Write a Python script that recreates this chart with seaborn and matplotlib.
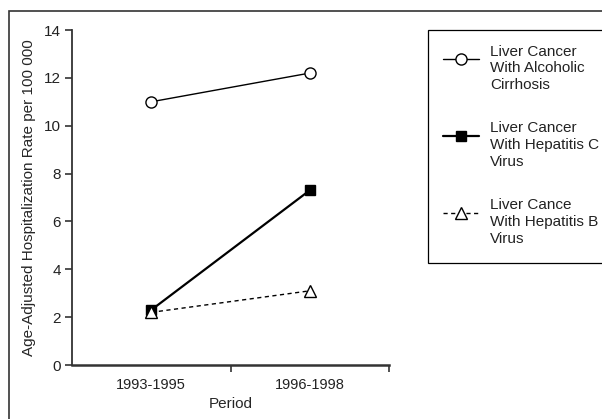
import pandas as pd
import matplotlib.pyplot as plt
import seaborn as sns
from matplotlib.patches import Rectangle
from matplotlib.ticker import FixedLocator

# data
periods = ['1993-1995', '1996-1998']
alcoholic = [11.0, 12.2]
hep_c = [2.3, 7.3]
hep_b = [2.2, 3.1]
labels = ['Liver Cancer\nWith Alcoholic\nCirrhosis',
          'Liver Cancer\nWith Hepatitis C\nVirus',
          'Liver Cance\nWith Hepatitis B\nVirus']

sns.set_style('ticks')
plt.rcParams['font.family'] = ['Liberation Sans', 'DejaVu Sans']
plt.rcParams['font.size'] = 10.5
plt.rcParams['text.color'] = '#222222'

df = pd.DataFrame({'Period': periods * 3,
                   'Rate': alcoholic + hep_c + hep_b,
                   'Group': [labels[0]] * 2 + [labels[1]] * 2 + [labels[2]] * 2})

fig = plt.figure(figsize=(6.02, 4.19), dpi=100)
ax = fig.add_axes([72 / 602, 1 - 365 / 419, (389 - 72) / 602, (365 - 30) / 419])

styles = [
    dict(marker='o', markersize=8, markerfacecolor='white', markeredgecolor='black',
         linewidth=1.0, linestyle='-'),
    dict(marker='s', markersize=7, markerfacecolor='black', markeredgecolor='black',
         linewidth=1.6, linestyle='-'),
    dict(marker='^', markersize=8, markerfacecolor='white', markeredgecolor='black',
         linewidth=1.0, linestyle=(0, (3, 2.5))),
]
for lab, st in zip(labels, styles):
    sub = df[df['Group'] == lab]
    sns.lineplot(data=sub, x='Period', y='Rate', ax=ax, color='black',
                 markeredgewidth=1.0, label=lab, **st)

ax.set_xlim(-0.5, 1.5)
ax.set_ylim(0, 14)
ax.set_yticks(range(0, 15, 2))
ax.xaxis.set_minor_locator(FixedLocator([0.5, 1.5]))
ax.tick_params(axis='x', which='major', length=0, pad=9, labelsize=10.5, labelcolor='#222222')
ax.tick_params(axis='x', which='minor', length=5, width=1.2, color='#333333')
ax.tick_params(axis='y', length=5, width=1.2, color='#333333', pad=3, labelsize=11,
               labelcolor='#222222')
sns.despine(ax=ax)
for s in ['left', 'bottom']:
    ax.spines[s].set_color('#333333')
ax.spines['left'].set_linewidth(1.3)
ax.spines['bottom'].set_linewidth(1.8)

ax.set_xlabel('Period', labelpad=4, fontsize=11)
ax.set_ylabel('Age-Adjusted Hospitalization Rate per 100 000', labelpad=6, fontsize=11)

leg = ax.legend(loc='upper left', bbox_to_anchor=(428 / 602, 1 - 30 / 419, 0.4, 0.0),
                bbox_transform=fig.transFigure, mode='expand', frameon=True,
                fancybox=False, edgecolor='black', framealpha=1, borderpad=0.95,
                handlelength=2.4, handletextpad=0.7, handleheight=4.6,
                labelspacing=1.75, borderaxespad=0, fontsize=11)
leg.get_frame().set_linewidth(0.9)
for t in leg.get_texts():
    t.set_linespacing(1.25)

# outer frame, clipped at right and bottom as in the original
fig.add_artist(Rectangle((9 / 602, -0.1), 1.0, 1.1 - 11 / 419, transform=fig.transFigure,
                         fill=False, edgecolor='#333333', linewidth=1.2))

fig.savefig('out.png', dpi=100)
